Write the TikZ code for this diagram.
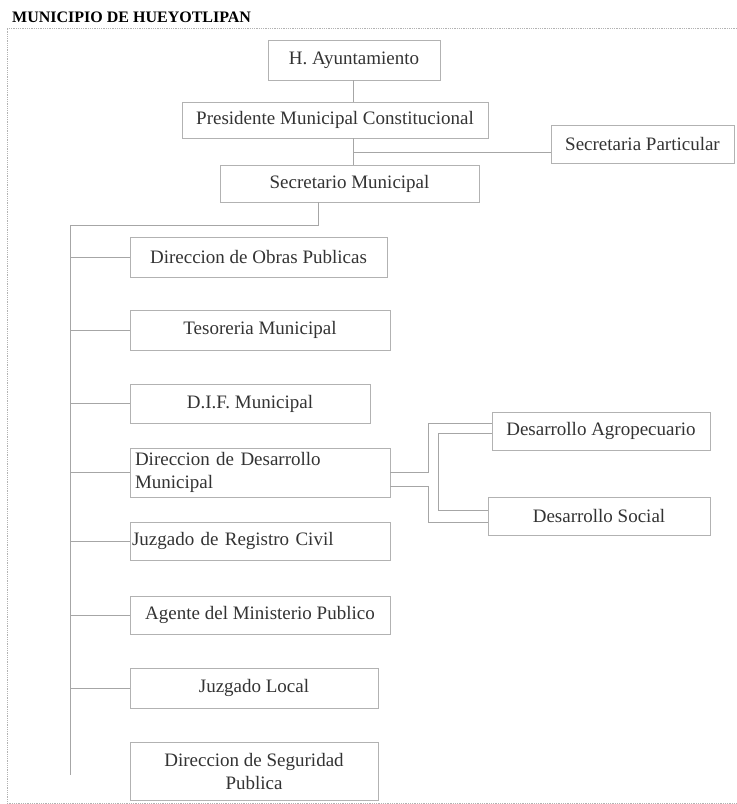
\documentclass[tikz,border=0pt]{standalone}
\usepackage{fontspec}
\setmainfont{Liberation Serif}
\begin{document}
\begin{tikzpicture}[x=1pt,y=-1pt,
    cargo/.style={draw=black!30,line width=0.8pt,inner sep=2pt,font=\fontsize{19}{23}\selectfont,text=black!80,align=center},
    conn/.style={black!35,line width=0.7pt},
    marco/.style={black!30,densely dotted,line width=0.8pt}]
    \useasboundingbox (0,0) rectangle (737,804);
    % marco de la hoja
    \draw[marco] (737,28) -- (7,28) -- (7,803) -- (737,803);
    \node[anchor=west,font=\fontsize{16}{18}\selectfont\bfseries,inner sep=0pt] (titulo) at (12,17) {MUNICIPIO DE HUEYOTLIPAN};
    % nodos superiores
    \node[cargo,minimum width=172,minimum height=40] (hay) at (354,60) {H. Ayuntamiento};
    \node[cargo,minimum width=306,minimum height=36] (pres) at (335,120) {Presidente Municipal Constitucional};
    \node[cargo,minimum width=183,minimum height=38] (spart) at (642.5,144) {Secretaria Particular};
    \node[cargo,minimum width=259,minimum height=37] (smun) at (349.5,183.5) {Secretario Municipal};
    % direcciones
    \node[cargo,minimum width=257,minimum height=40] (obras) at (258.5,257) {Direccion de Obras Publicas};
    \node[cargo,minimum width=260,minimum height=40] (teso) at (260,330) {Tesoreria Municipal};
    \node[cargo,minimum width=240,minimum height=39] (dif) at (250,403.5) {D.I.F. Municipal};
    \node[cargo,minimum width=260,minimum height=49,text width=250,align=left] (ddm) at (260,472.5) {Direccion de Desarrollo\\Municipal};
    \node[cargo,minimum width=260,minimum height=38,text width=256,align=left] (jrc) at (260,541) {Juzgado de Registro Civil};
    \node[cargo,minimum width=260,minimum height=38] (amp) at (260,615) {Agente del Ministerio Publico};
    \node[cargo,minimum width=248,minimum height=40] (jloc) at (254,688) {Juzgado Local};
    \node[cargo,minimum width=248,minimum height=58] (dsp) at (254,771) {Direccion de Seguridad\\Publica};
    \node[cargo,minimum width=218,minimum height=38] (dagro) at (601,431) {Desarrollo Agropecuario};
    \node[cargo,minimum width=222,minimum height=38] (dsoc) at (599,516) {Desarrollo Social};
    % conectores
    \coordinate (ttop) at (70,225);
    \coordinate (tbot) at (70,775);
    \coordinate (eje) at (353,0);
    \draw[conn] (eje |- hay.south) -- (eje |- pres.north);
    \draw[conn] (eje |- pres.south) -- (eje |- smun.north);
    \draw[conn] ([yshift=-8pt]eje |- spart.west) -- ([yshift=-8pt]spart.west);
    \draw[conn] ([xshift=-31pt]smun.south) |- (ttop) -- (tbot);
    \foreach \n in {obras,teso,dif,ddm,jrc,amp,jloc}
        \draw[conn] (ttop |- \n.west) -- (\n.west);
    \coordinate (bra) at (428,0);
    \coordinate (brb) at (438,0);
    \draw[conn] (ddm.east) -- (bra |- ddm.east) |- ([yshift=8pt]dagro.west);
    \draw[conn] ([yshift=-13.5pt]ddm.east) -- ([yshift=-13.5pt]bra |- ddm.east) |- ([yshift=-6pt]dsoc.west);
    \draw[conn] ([yshift=-2pt]dagro.west) -| ([yshift=6pt]brb |- dsoc.west) -- ([yshift=6pt]dsoc.west);
\end{tikzpicture}
\end{document}
